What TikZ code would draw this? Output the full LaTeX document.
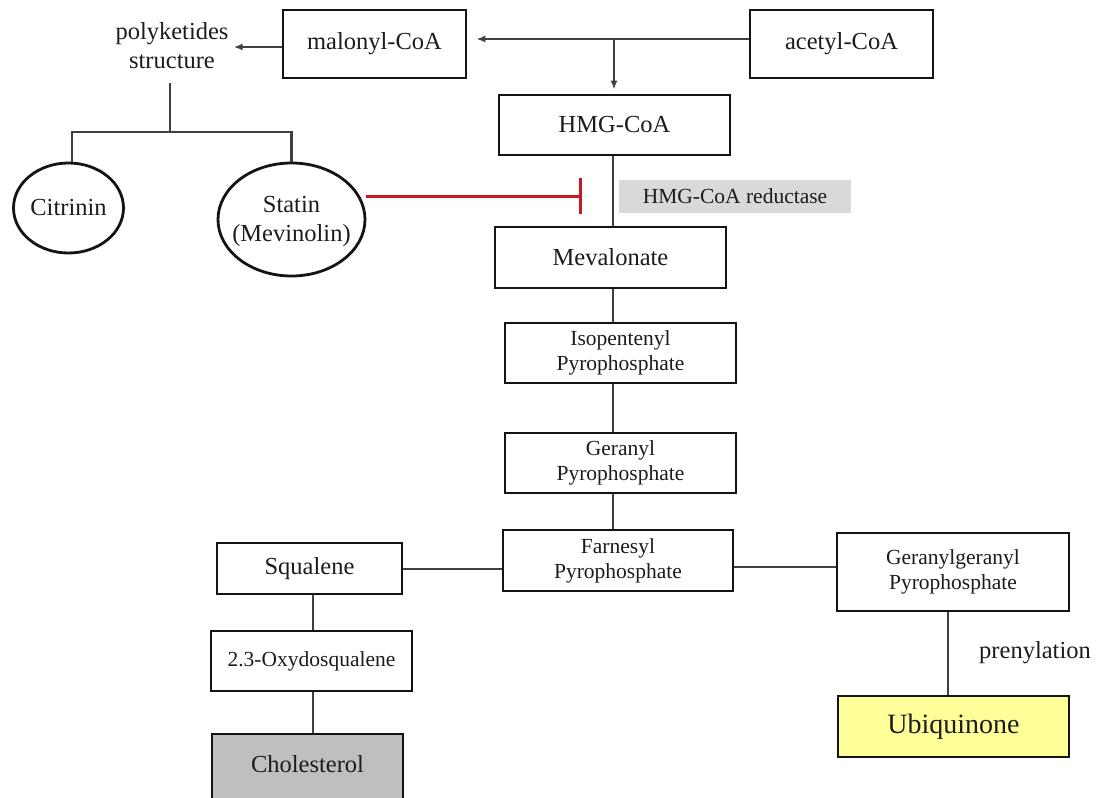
\documentclass[tikz,border=0pt]{standalone}
\usepackage{fontspec}
\setmainfont{Liberation Serif}
\usetikzlibrary{arrows.meta,shapes.geometric,calc}
\definecolor{txt}{RGB}{28,28,28}
\definecolor{edge}{RGB}{20,20,20}
\definecolor{conn}{RGB}{64,64,64}
\definecolor{inhred}{RGB}{200,24,32}
\definecolor{redgray}{RGB}{217,217,217}
\definecolor{cholgray}{RGB}{191,191,191}
\definecolor{ubiyellow}{RGB}{255,255,153}
\newcommand\FSbig{\fontsize{24.5pt}{29pt}\selectfont}
\newcommand\FSsmall{\fontsize{21.5pt}{25pt}\selectfont}
\newcommand\FSubi{\fontsize{28pt}{32pt}\selectfont}
\begin{document}
\begin{tikzpicture}[x=1pt,y=-1pt,
  box/.style={draw=edge, line width=2.8pt, fill=white, inner sep=0pt, align=center, text=txt},
  oval/.style={draw=edge, line width=2.8pt, ellipse, inner sep=0pt},
  plain/.style={inner sep=0pt, align=center, text=txt},
  line/.style={draw=conn, line width=2.2pt},
  arr/.style={line, -{Latex[length=9pt,width=7pt]}},
  inh/.style={draw=inhred, line width=3pt, -{Bar[width=36pt,line width=3pt]}}
]
\useasboundingbox (0,0) rectangle (1098,798);

% top row
\node[box, minimum width=183pt, minimum height=68pt, font=\FSbig] (mal) at (374.5,44) {malonyl-CoA};
\node[box, minimum width=183pt, minimum height=68pt, font=\FSbig] (ace) at (841.5,44) {acetyl-CoA};
\node[plain, font=\FSbig] (poly) at (172,46) {polyketides\\structure};

% ellipses
\node[oval, minimum width=110pt, minimum height=90pt] (cit) at (68.5,208) {};
\node[plain, font=\FSbig] (citT) at (cit) {Citrinin};
\node[oval, minimum width=147pt, minimum height=113pt] (stat) at (291.5,219.5) {};
\node[plain, font=\FSbig] (statT) at (291.5,221) {Statin\\(Mevinolin)};

% main column
\node[box, minimum width=231pt, minimum height=60pt, font=\FSbig] (hmg) at (614.5,125) {HMG-CoA};
\node[fill=redgray, minimum width=232pt, minimum height=33pt, inner sep=0pt, text=txt, font=\FSsmall] (red) at (735,196.5) {HMG-CoA reductase};
\node[box, minimum width=231pt, minimum height=61pt, font=\FSbig] (mev) at (610.5,257.5) {Mevalonate};
\node[box, minimum width=231pt, minimum height=60pt, font=\FSsmall] (iso) at (620.5,353) {Isopentenyl\\Pyrophosphate};
\node[box, minimum width=231pt, minimum height=60pt, font=\FSsmall] (ger) at (620.5,463) {Geranyl\\Pyrophosphate};
\node[box, minimum width=230pt, minimum height=61pt, font=\FSsmall] (far) at (618,560.5) {Farnesyl\\Pyrophosphate};

% left branch
\node[box, minimum width=185pt, minimum height=51pt, font=\FSbig] (sq) at (309.5,568.5) {Squalene};
\node[box, minimum width=201pt, minimum height=60pt, font=\FSsmall] (oxy) at (311.5,661) {2.3-Oxydosqualene};
\node[box, fill=cholgray, minimum width=191pt, minimum height=74pt] (chol) at (307.5,771) {};
\node[plain, font=\FSbig] (cholT) at (307.5,764) {Cholesterol};

% right branch
\node[box, minimum width=232pt, minimum height=78pt, font=\FSsmall] (gg) at (953,572) {Geranylgeranyl\\Pyrophosphate};
\node[box, fill=ubiyellow, minimum width=231pt, minimum height=61pt, font=\FSubi] (ubi) at (953.5,726.5) {Ubiquinone};
\node[plain, font=\FSbig] (pren) at (1035,653) {prenylation};

% coordinates
\coordinate (col) at (613,0);
\coordinate (col2) at (313,0);
\coordinate (j) at (614,39);
\coordinate (pk) at (170,132);
\coordinate (inhEnd) at (582,196);

% connectors
\draw[arr, shorten >=9pt] ([yshift=5pt]ace.west) -- ([yshift=5pt]mal.east);
\draw[arr, shorten >=4pt] (j) -- (j |- hmg.north);
\draw[arr, shorten >=5pt] ([yshift=-3pt]mal.west) -- ([yshift=-3pt]mal.west -| poly.east);
\draw[line] (pk |- 0,83) -- (pk);
\draw[line] (cit.north -| 72,0) |- (pk) -| (stat.north);
\draw[inh] ([yshift=23.5pt]stat.east) -- (inhEnd);

\draw[line] (col |- hmg.south) -- (col |- mev.north);
\draw[line] (col |- mev.south) -- (col |- iso.north);
\draw[line] (col |- iso.south) -- (col |- ger.north);
\draw[line] (col |- ger.south) -- (col |- far.north);

\draw[line] ([yshift=-0.5pt]sq.east) -- ([yshift=-0.5pt]sq.east -| far.west);
\draw[line] ([yshift=-6.5pt]far.east) -- ([yshift=-6.5pt]far.east -| gg.west);
\draw[line] (col2 |- sq.south) -- (col2 |- oxy.north);
\draw[line] (col2 |- oxy.south) -- (col2 |- chol.north);
\draw[line] ([xshift=-5pt]gg.south) -- ([xshift=-5pt]gg.south |- ubi.north);
\end{tikzpicture}
\end{document}
